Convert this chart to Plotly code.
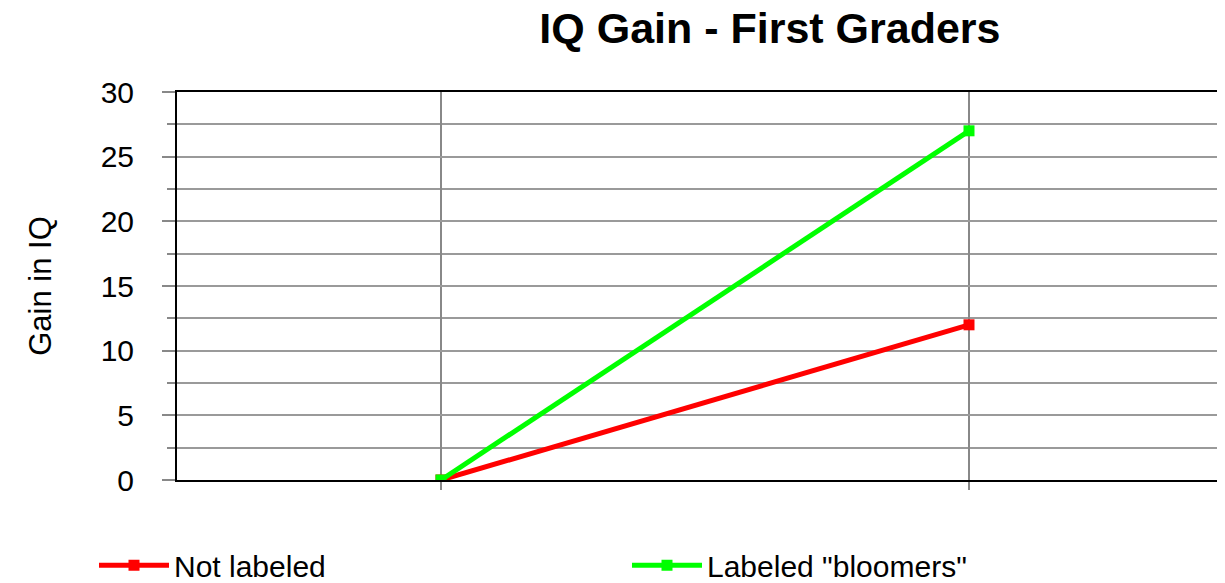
import plotly.graph_objects as go

# Data
stages = ["Start", "End"]
not_labeled = [0, 12]
labeled_bloomers = [0, 27]
y_ticks = [0, 5, 10, 15, 20, 25, 30]

FONT = "Liberation Sans, Arial, sans-serif"

fig = go.Figure()
fig.add_trace(go.Scatter(
    x=stages, y=not_labeled, name="Not labeled", mode="lines+markers",
    line=dict(color="#ff0000", width=5),
    marker=dict(symbol="square", size=11, color="#ff0000"),
))
fig.add_trace(go.Scatter(
    x=stages, y=labeled_bloomers, name='Labeled "bloomers"', mode="lines+markers",
    line=dict(color="#00ff00", width=5),
    marker=dict(symbol="square", size=11, color="#00ff00"),
))

fig.update_layout(
    width=1225, height=583,
    margin=dict(l=169, r=0, t=84, b=111, autoexpand=False),
    paper_bgcolor="white", plot_bgcolor="white",
    title=dict(text="<b>IQ Gain - First Graders</b>", x=0.622, xanchor="center",
               y=1, yanchor="top", pad=dict(t=5),
               font=dict(family=FONT, size=43, color="black")),
    showlegend=True,
    legend=dict(orientation="h", x=-0.0786, xanchor="left", y=-0.22, yanchor="middle",
                entrywidth=448, entrywidthmode="pixels", itemwidth=70,
                font=dict(family=FONT, size=30, color="black"),
                bgcolor="rgba(0,0,0,0)"),
)

fig.update_xaxes(
    type="category", range=[-0.5, 1.5],
    showticklabels=False, ticks="outside", ticklen=8, tickcolor="#888888", tickwidth=2,
    showgrid=True, gridcolor="#888888", gridwidth=2,
    showline=True, linecolor="black", linewidth=2, mirror=True,
    zeroline=False,
)
fig.update_yaxes(
    range=[0, 30], tickvals=y_ticks, ticks="outside", ticklen=13, tickcolor="#888888", tickwidth=2,
    tickfont=dict(family=FONT, size=30, color="black"), ticklabelstandoff=22,
    showgrid=True, gridcolor="#9a9a9a", gridwidth=1.5,
    minor=dict(dtick=2.5, tick0=0, ticks="outside", ticklen=8, tickcolor="#888888", tickwidth=2,
               showgrid=True, gridcolor="#9a9a9a", gridwidth=1.5),
    showline=True, linecolor="black", linewidth=2,
    zeroline=False,
    title=dict(text="Gain in IQ", font=dict(family=FONT, size=31, color="black"), standoff=40),
)

fig.write_html("out.html")
